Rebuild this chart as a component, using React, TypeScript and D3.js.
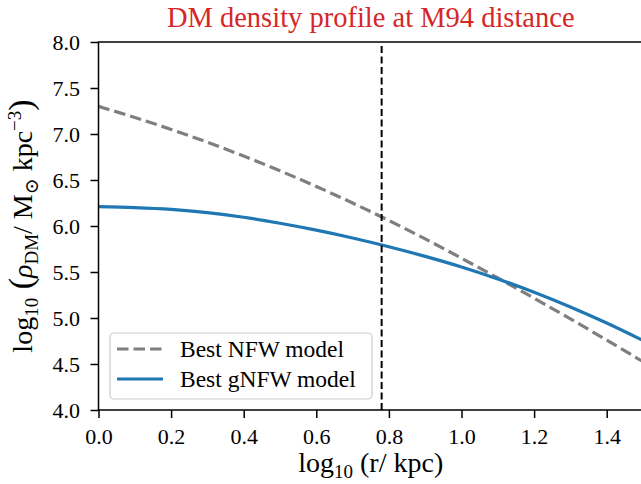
import { useRef, useEffect } from "react";
import { axisBottom, axisLeft, line, curveCatmullRom, scaleLinear, select } from "d3";

// log10(r / kpc) sample points
const radii = [0, 0.1, 0.2, 0.3, 0.4, 0.5, 0.6, 0.7, 0.8, 0.9, 1.0, 1.1, 1.2, 1.3, 1.4, 1.5];
// log10 density, best NFW fit
const nfwValues = [7.3, 7.18, 7.05, 6.91, 6.76, 6.6, 6.43, 6.25, 6.06, 5.86, 5.65, 5.435, 5.215, 4.99, 4.76, 4.525];
// log10 density, best gNFW fit
const gnfwValues = [6.21, 6.2, 6.18, 6.145, 6.095, 6.03, 5.955, 5.87, 5.775, 5.67, 5.555, 5.425, 5.28, 5.12, 4.945, 4.755];
const m94Distance = 0.78;
const xTicks = [0, 0.2, 0.4, 0.6, 0.8, 1.0, 1.2, 1.4];
const yTicks = [4.0, 4.5, 5.0, 5.5, 6.0, 6.5, 7.0, 7.5, 8.0];
const legendLabels = ["Best NFW model", "Best gNFW model"];

const FONT = "'Liberation Serif', 'DejaVu Serif', serif";

export default function App() {
    const xAxisRef = useRef<SVGGElement>(null);
    const yAxisRef = useRef<SVGGElement>(null);

    const margin = { top: 42, left: 98.5 };
    const plotW = 544.5;
    const plotH = 368;

    const x = scaleLinear().domain([0, 1.5]).range([0, plotW]);
    const y = scaleLinear().domain([4, 8]).range([plotH, 0]);

    const profile = line<number>()
        .x((_, i) => x(radii[i]))
        .y((d) => y(d))
        .curve(curveCatmullRom);

    useEffect(() => {
        if (xAxisRef.current) {
            const g = select(xAxisRef.current);
            g.call(
                axisBottom(x)
                    .tickValues(xTicks)
                    .tickFormat((d) => (d as number).toFixed(1))
                    .tickSize(8)
                    .tickSizeOuter(0)
                    .tickPadding(10)
            );
            g.select(".domain").remove();
            g.selectAll(".tick line").attr("stroke", "black").attr("stroke-width", 1.5);
            g.selectAll(".tick text")
                .attr("font-family", FONT)
                .attr("font-size", 22)
                .attr("fill", "black");
        }
        if (yAxisRef.current) {
            const g = select(yAxisRef.current);
            g.call(
                axisLeft(y)
                    .tickValues(yTicks)
                    .tickFormat((d) => (d as number).toFixed(1))
                    .tickSize(8)
                    .tickSizeOuter(0)
                    .tickPadding(10.5)
            );
            g.select(".domain").remove();
            g.selectAll(".tick line").attr("stroke", "black").attr("stroke-width", 1.5);
            g.selectAll(".tick text")
                .attr("font-family", FONT)
                .attr("font-size", 22)
                .attr("fill", "black");
        }
    }, []);

    return (
        <svg
            width={641}
            height={484}
            style={{ position: "absolute", left: 0, top: 0, background: "white" }}
        >
            <text
                x={margin.left + plotW / 2}
                y={27}
                textAnchor="middle"
                fontFamily={FONT}
                fontSize={28.5}
                fill="#d62728"
            >
                DM density profile at M94 distance
            </text>
            <g transform={`translate(${margin.left}, ${margin.top})`}>
                <defs>
                    <clipPath id="plot-clip">
                        <rect x={0} y={0} width={plotW} height={plotH} />
                    </clipPath>
                </defs>
                <g clipPath="url(#plot-clip)">
                    <path
                        d={profile(nfwValues) ?? ""}
                        fill="none"
                        stroke="#7f7f7f"
                        strokeWidth={3.2}
                        strokeDasharray="11.5,5"
                    />
                    <path
                        d={profile(gnfwValues) ?? ""}
                        fill="none"
                        stroke="#1f77b4"
                        strokeWidth={3.2}
                    />
                    <line
                        x1={x(m94Distance)}
                        x2={x(m94Distance)}
                        y1={4}
                        y2={plotH}
                        stroke="black"
                        strokeWidth={2}
                        strokeDasharray="7,3.5"
                    />
                </g>
                <rect
                    x={0}
                    y={0}
                    width={plotW}
                    height={plotH}
                    fill="none"
                    stroke="black"
                    strokeWidth={1.5}
                />
                <g ref={xAxisRef} transform={`translate(0, ${plotH})`} />
                <g ref={yAxisRef} />

                <g transform="translate(11.5, 291)">
                    <rect
                        width={262}
                        height={66}
                        rx={4}
                        fill="white"
                        fillOpacity={0.8}
                        stroke="#cccccc"
                        strokeWidth={1.2}
                    />
                    {legendLabels.map((label, i) => (
                        <g key={label} transform={`translate(0, ${16 + i * 30})`}>
                            <line
                                x1={7}
                                x2={53}
                                y1={0}
                                y2={0}
                                stroke={i === 0 ? "#7f7f7f" : "#1f77b4"}
                                strokeWidth={3.2}
                                strokeDasharray={i === 0 ? "11.5,5" : undefined}
                            />
                            <text
                                x={70}
                                y={8}
                                fontFamily={FONT}
                                fontSize={23.5}
                                fill="black"
                            >
                                {label}
                            </text>
                        </g>
                    ))}
                </g>
            </g>

            <text
                x={margin.left + plotW / 2}
                y={472}
                textAnchor="middle"
                fontFamily={FONT}
                fontSize={28}
                fill="black"
            >
                log
                <tspan fontSize={19} dy={6}>10</tspan>
                <tspan dy={-6}> (r/ kpc)</tspan>
            </text>

            <text
                transform={`translate(31.5, ${margin.top + plotH / 2}) rotate(-90)`}
                textAnchor="middle"
                fontFamily={FONT}
                fontSize={28}
                fill="black"
            >
                log
                <tspan fontSize={19} dy={6}>10</tspan>
                <tspan dy={-6} fontSize={34}> (</tspan>
                <tspan fontStyle="italic">ρ</tspan>
                <tspan fontSize={19} dy={6}>DM</tspan>
                <tspan dy={-6}>/ M</tspan>
                <tspan fontSize={19} dy={6}>⊙</tspan>
                <tspan dy={-6}> kpc</tspan>
                <tspan fontSize={19} dy={-11}>−3</tspan>
                <tspan dy={11} fontSize={34}>)</tspan>
            </text>
        </svg>
    );
}
